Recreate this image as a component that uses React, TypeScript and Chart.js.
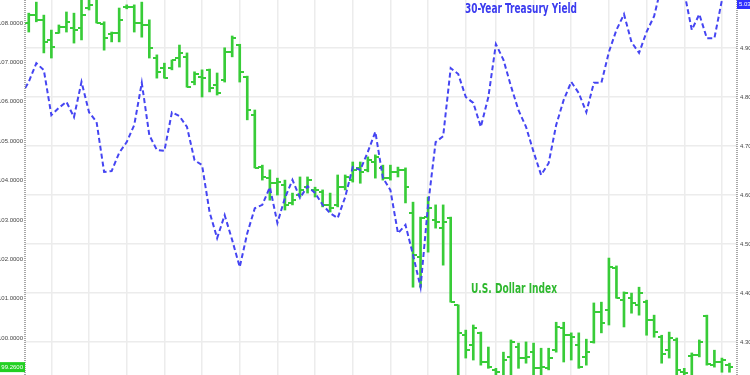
import React, { useEffect, useRef } from "react";
import { Chart, registerables } from "chart.js";

Chart.register(...registerables);

// U.S. Dollar Index daily OHLC (left axis)
const usdOpen = [
  108.0, 108.2, 108.08, 107.57, 107.75, 107.9, 107.87, 107.87, 108.38, 108.66,
  107.97, 107.72, 107.75, 108.41, 108.41, 108.0, 107.95, 107.11, 106.86, 106.86,
  107.11, 107.14, 106.5, 106.63, 106.81, 106.43, 106.55, 107.26, 107.44, 106.63,
  105.66, 104.34, 104.06, 103.93, 103.88, 103.43, 103.63, 103.83, 103.76, 103.71,
  103.38, 103.38, 103.83, 104.01, 104.32, 104.27, 104.47, 104.32, 104.06, 104.22,
  104.27, 103.17, 102.06, 103.07, 103.0, 102.79, 103.05, 100.84, 100.07, 99.82,
  100.13, 99.39, 99.19, 98.98, 99.52, 99.77, 99.49, 99.64, 99.23, 99.23,
  99.69, 100.25, 100.07, 99.82, 99.52, 99.9, 100.66, 100.71, 101.78, 100.96,
  101.01, 100.84, 100.91, 100.46, 100.02, 99.69, 99.95, 99.13, 99.54, 99.57,
  100.56, 99.31, 99.39, 99.31,
];
const usdHigh = [
  108.25, 108.53, 108.2, 107.82, 107.95, 108.28, 108.25, 108.58, 108.66, 108.71,
  108.03, 107.77, 108.38, 108.46, 108.46, 108.53, 108.08, 107.19, 106.98, 107.06,
  107.44, 107.24, 106.76, 106.81, 106.83, 106.73, 107.37, 107.67, 107.46, 106.65,
  105.79, 104.39, 104.27, 104.06, 104.01, 103.68, 104.09, 104.09, 103.83, 103.76,
  103.68, 104.14, 104.14, 104.47, 104.47, 104.6, 104.65, 104.39, 104.39, 104.34,
  104.32, 103.45, 103.07, 103.58, 103.38, 103.38, 103.07, 100.84, 100.2, 100.33,
  100.15, 99.77, 99.23, 99.64, 99.95, 99.87, 99.9, 99.87, 99.74, 99.74,
  100.4, 100.4, 100.13, 100.13, 99.97, 100.89, 100.91, 102.03, 101.83, 101.17,
  101.14, 101.29, 100.96, 100.58, 100.07, 100.15, 100.0, 99.23, 99.62, 99.95,
  100.58, 99.69, 99.49, 99.36,
];
const usdLow = [
  107.77, 108.03, 107.24, 107.11, 107.74, 107.77, 107.49, 107.57, 108.33, 108.0,
  107.31, 107.52, 107.52, 108.36, 107.77, 107.64, 107.11, 106.6, 106.6, 106.81,
  106.88, 106.37, 106.43, 106.12, 106.25, 106.17, 106.5, 107.14, 106.5, 105.54,
  104.32, 104.01, 103.5, 103.63, 103.25, 103.38, 103.58, 103.68, 103.58, 103.33,
  103.2, 103.33, 103.76, 103.96, 103.93, 104.22, 104.06, 104.01, 104.01, 104.09,
  103.43, 101.29, 101.29, 102.18, 102.79, 101.85, 100.91, 98.93, 99.49, 99.44,
  99.31, 99.23, 98.93, 98.88, 98.93, 99.23, 99.36, 98.93, 98.98, 99.19,
  99.64, 99.39, 99.44, 99.23, 99.31, 99.87, 100.13, 100.33, 101.01, 100.28,
  100.63, 100.58, 100.07, 100.02, 99.36, 99.49, 98.98, 98.93, 98.98, 99.52,
  99.31, 99.26, 99.13, 99.13,
];
const usdClose = [
  108.2, 108.08, 107.52, 107.39, 107.9, 108.03, 107.82, 108.2, 108.46, 108.0,
  107.62, 107.75, 108.08, 108.41, 108.0, 107.95, 107.37, 106.76, 106.6, 107.06,
  107.24, 106.37, 106.7, 106.6, 106.35, 106.22, 107.26, 107.62, 106.76, 105.79,
  104.32, 104.09, 103.93, 103.96, 103.38, 103.5, 103.76, 104.01, 103.76, 103.38,
  103.3, 103.83, 104.09, 104.27, 104.22, 104.52, 104.6, 104.06, 104.22, 104.27,
  103.83, 102.11, 103.05, 103.3, 102.95, 102.95, 100.91, 100.13, 99.69, 100.25,
  99.39, 99.26, 99.13, 99.44, 99.9, 99.49, 99.52, 99.23, 99.26, 99.49,
  100.28, 100.07, 100.02, 99.26, 99.64, 100.66, 100.38, 101.8, 101.01, 101.14,
  100.89, 101.14, 100.46, 100.15, 99.59, 100.0, 99.19, 99.11, 99.57, 99.9,
  99.34, 99.39, 99.44, 99.26,
];

// 30-Year Treasury Yield (right axis), first value is the day before the first bar
const yieldValues = [
  4.804,
  4.831, 4.869, 4.855, 4.763, 4.778, 4.79, 4.759, 4.831, 4.769, 4.749,
  4.647, 4.649, 4.686, 4.708, 4.743, 4.829, 4.722, 4.692, 4.69, 4.769,
  4.761, 4.739, 4.671, 4.661, 4.565, 4.512, 4.559, 4.508, 4.453, 4.522,
  4.573, 4.58, 4.616, 4.543, 4.594, 4.631, 4.594, 4.618, 4.604, 4.58,
  4.563, 4.553, 4.596, 4.657, 4.651, 4.688, 4.729, 4.635, 4.61, 4.522,
  4.539, 4.478, 4.412, 4.58, 4.708, 4.72, 4.859, 4.847, 4.8, 4.788,
  4.739, 4.8, 4.908, 4.876, 4.822, 4.773, 4.739, 4.688, 4.641, 4.665,
  4.743, 4.794, 4.831, 4.808, 4.769, 4.829, 4.829, 4.892, 4.937, 4.969,
  4.912, 4.89, 4.933, 4.965, 5.029, 5.059, 5.049, 5.014, 4.937, 4.969,
  4.92, 4.92, 4.998, 5.039,
];

const usdTicks = [100, 101, 102, 103, 104, 105, 106, 107, 108];
const yieldTicks = [4.3, 4.4, 4.5, 4.6, 4.7, 4.8, 4.9];
const weekGridDays = [3, 8, 13, 18, 23, 28, 33, 38, 43, 48, 53, 58, 62, 67, 72, 77, 82, 87, 92];

const GREEN = "#38cc38";
const BLUE = "#4545f2";
const GRID = "#ececec";

function makeTick(side: "left" | "right"): HTMLCanvasElement {
  const c = document.createElement("canvas");
  c.width = 8;
  c.height = 2;
  const g = c.getContext("2d")!;
  g.fillStyle = GREEN;
  if (side === "left") g.fillRect(0, 0, 4, 2);
  else g.fillRect(4, 0, 4, 2);
  return c;
}

function fitText(ctx: CanvasRenderingContext2D, text: string, cx: number, cy: number, width: number) {
  const w = ctx.measureText(text).width;
  const k = width / w;
  ctx.save();
  ctx.translate(cx, cy);
  ctx.scale(k, 1);
  ctx.textAlign = "center";
  ctx.fillText(text, 0, 0);
  ctx.restore();
}

const zeroPad = (s: any) => {
  s.paddingTop = 0;
  s.paddingBottom = 0;
};

const labelPlugin = {
  id: "annotTexts",
  afterDraw(chart: any) {
    const ctx = chart.ctx;
    const ys = chart.scales.y;
    const y1 = chart.scales.y1;
    const area = chart.chartArea;
    ctx.save();

    // dotted axis lines
    ctx.strokeStyle = "#8a8a8a";
    ctx.lineWidth = 1.5;
    ctx.setLineDash([1, 1]);
    ctx.beginPath();
    ctx.moveTo(area.left, area.top);
    ctx.lineTo(area.left, area.bottom);
    ctx.moveTo(area.right, area.top);
    ctx.lineTo(area.right, area.bottom);
    ctx.stroke();
    ctx.setLineDash([]);

    ctx.textBaseline = "middle";
    ctx.font = 'bold 14px "Liberation Sans Narrow", "DejaVu Sans Condensed", "Liberation Sans", sans-serif';
    ctx.fillStyle = "#3b3bef";
    fitText(ctx, "30-Year Treasury Yield", 521, 9, 112);
    ctx.fillStyle = "#2fb82f";
    fitText(ctx, "U.S. Dollar Index", 514, 289, 86);

    // current value labels
    const lastUsd = usdClose[usdClose.length - 1];
    let py = ys.getPixelForValue(lastUsd);
    py = Math.max(area.top + 5, Math.min(area.bottom - 5, py));
    ctx.fillStyle = "#22d022";
    ctx.fillRect(0, py - 5, 25, 10);
    ctx.fillStyle = "#ffffff";
    ctx.font = '6px "Liberation Sans", sans-serif';
    ctx.textAlign = "right";
    ctx.fillText(lastUsd.toFixed(4), 23, py);

    const lastYield = yieldValues[yieldValues.length - 1];
    let qy = y1.getPixelForValue(lastYield);
    qy = Math.max(area.top + 4, Math.min(area.bottom - 5, qy));
    ctx.fillStyle = "#3030ff";
    ctx.fillRect(737, qy - 5, 13, 10);
    ctx.fillStyle = "#ffffff";
    ctx.textAlign = "left";
    ctx.fillText(lastYield.toFixed(4), 739, qy);
    ctx.restore();
  },
};

export default function App() {
  const ref = useRef<HTMLCanvasElement | null>(null);

  useEffect(() => {
    document.body.style.margin = "0";
    const canvas = ref.current!;
    const days = usdClose.map((_, i) => i);
    const chart = new Chart(canvas, {
      type: "bar",
      data: {
        datasets: [
          {
            type: "line",
            label: "30-Year Treasury Yield",
            data: yieldValues.map((v, i) => ({ x: i - 1, y: v })),
            yAxisID: "y1",
            xAxisID: "x",
            borderColor: BLUE,
            borderWidth: 2,
            borderDash: [5, 3],
            pointRadius: 0,
            tension: 0,
            fill: false,
            order: 0,
          } as any,
          {
            type: "line",
            label: "Open",
            data: days.map((d) => ({ x: d, y: usdOpen[d] })),
            yAxisID: "y",
            xAxisID: "x",
            showLine: false,
            pointStyle: makeTick("left"),
            pointRadius: 4,
            order: 1,
          } as any,
          {
            type: "line",
            label: "Close",
            data: days.map((d) => ({ x: d, y: usdClose[d] })),
            yAxisID: "y",
            xAxisID: "x",
            showLine: false,
            pointStyle: makeTick("right"),
            pointRadius: 4,
            order: 1,
          } as any,
          {
            type: "bar",
            label: "U.S. Dollar Index",
            data: days.map((d) => ({ x: d, y: [usdLow[d], usdHigh[d]] })),
            yAxisID: "y",
            xAxisID: "x",
            backgroundColor: GREEN,
            barThickness: 2,
            grouped: false,
            order: 2,
          } as any,
        ],
      },
      options: {
        animation: false,
        responsive: false,
        maintainAspectRatio: false,
        events: [],
        layout: { padding: 0, autoPadding: false } as any,
        plugins: {
          legend: { display: false },
          tooltip: { enabled: false },
        },
        scales: {
          x: {
            type: "linear",
            offset: false,
            min: -0.5,
            max: 94,
            display: true,
            ticks: { display: false },
            grid: { color: GRID, lineWidth: 1.5, drawTicks: false, offset: false },
            border: { display: false },
            afterBuildTicks: (s: any) => {
              s.ticks = weekGridDays.map((v) => ({ value: v }));
            },
            afterFit: (s: any) => {
              s.height = 0;
              s.paddingLeft = 0;
              s.paddingRight = 0;
            },
          },
          y: {
            type: "linear",
            position: "left",
            min: 99.06,
            max: 108.584,
            grid: { display: false, drawTicks: false },
            border: { display: false },
            ticks: {
              color: "#444",
              padding: 2,
              font: { size: 6, family: '"Liberation Sans", sans-serif' },
              callback: (v: any) => Number(v).toFixed(4),
            },
            afterBuildTicks: (s: any) => {
              s.ticks = usdTicks.map((v) => ({ value: v }));
            },
            afterFit: (s: any) => {
              s.width = 25;
              zeroPad(s);
            },
          },
          y1: {
            type: "linear",
            position: "right",
            min: 4.2327,
            max: 4.998,
            grid: { color: GRID, lineWidth: 1.5, drawTicks: false },
            border: { display: false },
            ticks: {
              color: "#444",
              padding: 3,
              font: { size: 6, family: '"Liberation Sans", sans-serif' },
              callback: (v: any) => Number(v).toFixed(4),
            },
            afterBuildTicks: (s: any) => {
              s.ticks = yieldTicks.map((v) => ({ value: v }));
            },
            afterFit: (s: any) => {
              s.width = 13;
              zeroPad(s);
            },
          },
        },
      },
      plugins: [labelPlugin],
    });
    return () => chart.destroy();
  }, []);

  return (
    <div style={{ width: 750, height: 375, background: "#fff" }}>
      <canvas ref={ref} width={750} height={375} style={{ display: "block" }} />
    </div>
  );
}
